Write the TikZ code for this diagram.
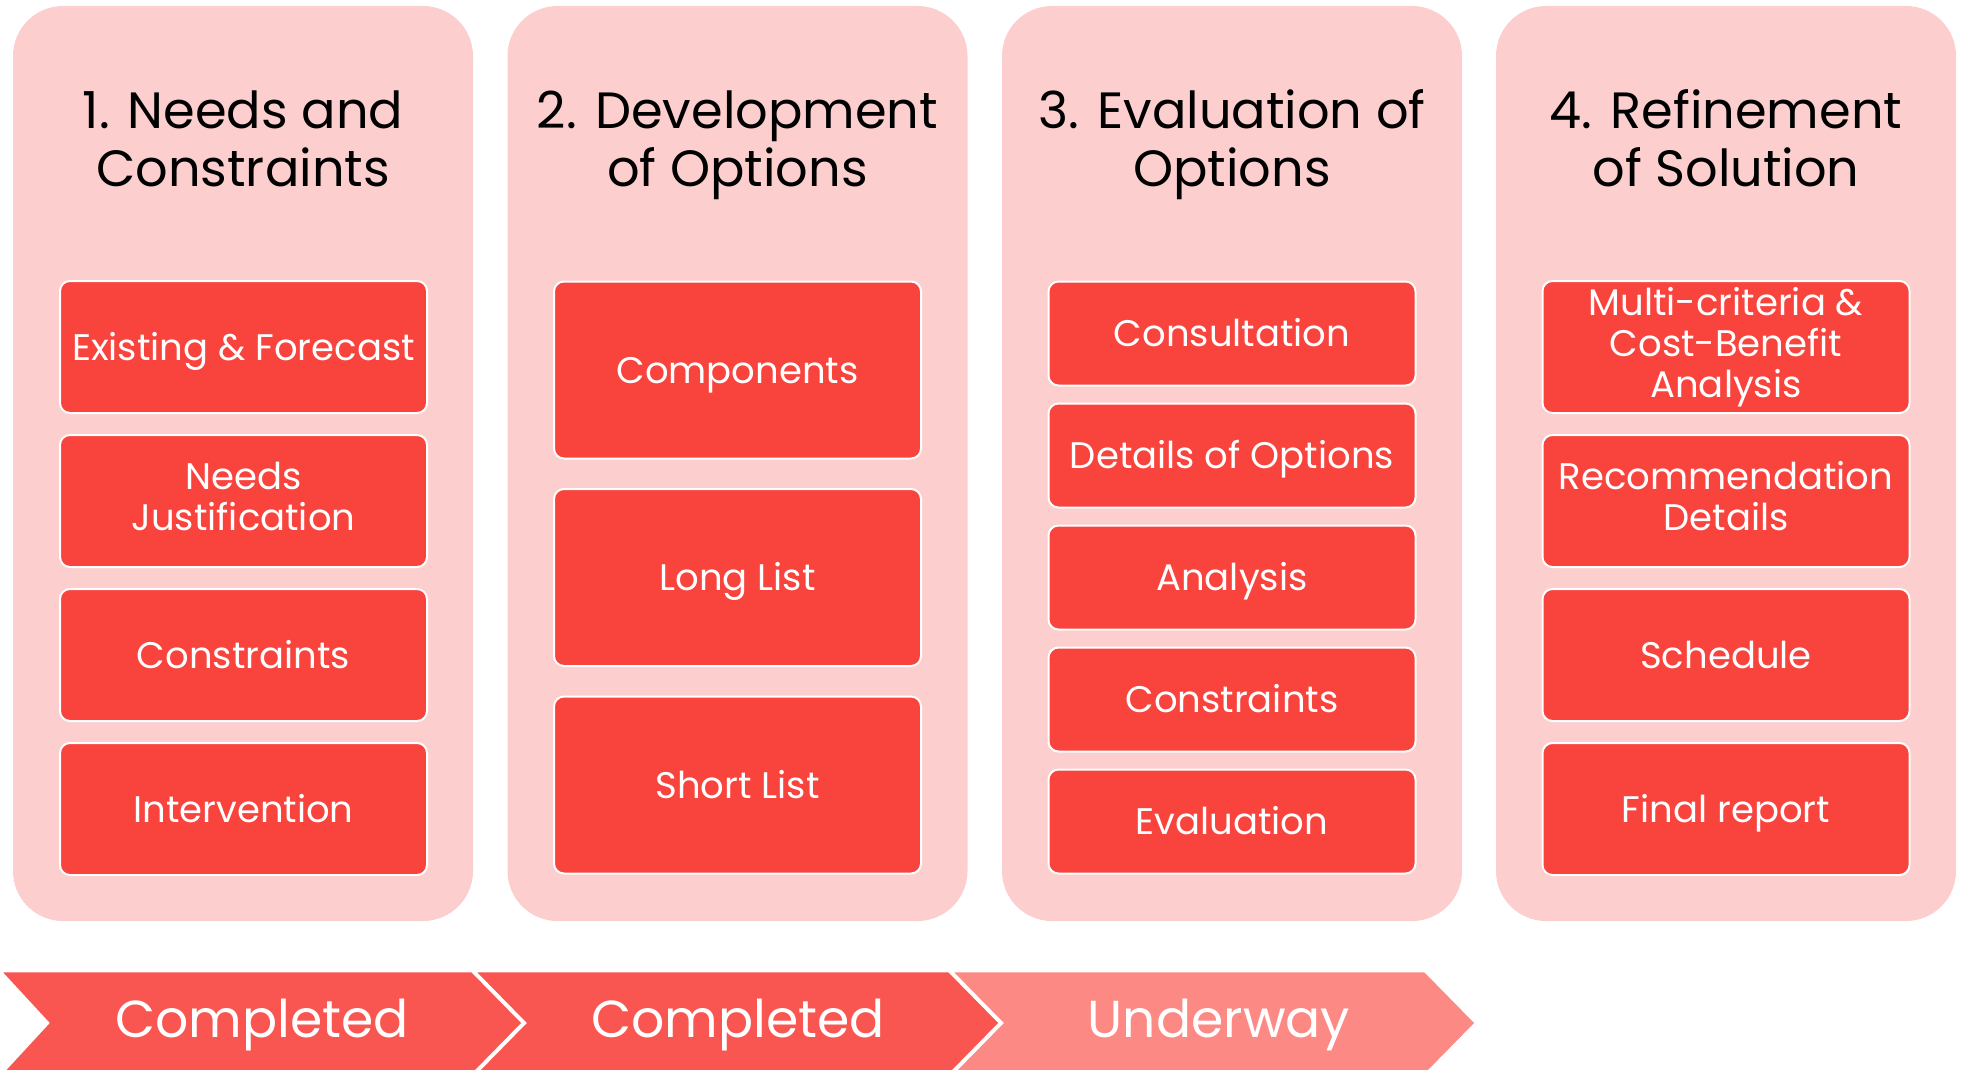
\documentclass[tikz,border=0pt]{standalone}
\usepackage{fontspec}
\setmainfont{Poppins}
\usepackage{tikz}
\usetikzlibrary{positioning}
\definecolor{PaleRose}{RGB}{252,206,206}
\definecolor{BoxRed}{RGB}{249,67,61}
\definecolor{DoneRed}{RGB}{249,86,81}
\definecolor{BusyRed}{RGB}{252,137,132}

\begin{document}
\begin{tikzpicture}[x=1pt, y=-1pt,
		column/.style={fill=PaleRose, rounded corners=50pt, minimum width=460pt, minimum height=915pt, inner sep=0pt},
		% struts so that every label is centred on its capitals
		heading/.style={align=center, inner sep=0pt, font=\fontsize{51}{58}\selectfont,
			execute at begin node=\rule{0pt}{48pt}, execute at end node=\rule[-13pt]{0pt}{13pt}},
		task/.style={fill=BoxRed, draw=white, line width=2pt, rounded corners=10pt, text=white, align=center,
			minimum width=367pt, inner sep=0pt, font=\fontsize{37}{41}\selectfont,
			execute at begin node=\rule{0pt}{36pt}, execute at end node=\rule[-10pt]{0pt}{10pt}},
		arrowband/.style={draw=white, line width=2.5pt, line join=miter},
		status/.style={text=white, inner sep=0pt, font=\fontsize{52}{58}\selectfont,
			execute at begin node=\rule{0pt}{48pt}, execute at end node=\rule[-13pt]{0pt}{13pt}}]
		\useasboundingbox (0,0) rectangle (1962,1070);
		
		% columns
		\node[column] (c1) at (243,463.5) {};
		\node[column] (c2) at (737.5,463.5) {};
		\node[column] (c3) at (1232,463.5) {};
		\node[column] (c4) at (1726,463.5) {};
		
		\node[heading] (h1) at (243,145) {1. Needs and\\Constraints};
		\node[heading] (h2) at (737.5,145) {2. Development\\of Options};
		\node[heading] (h3) at (1232,145) {3. Evaluation of\\Options};
		\node[heading] (h4) at (1726,145) {4. Refinement\\of Solution};
		
		% stage 1
		\node[task, minimum height=132pt] (n1) at (243.5,347) {Existing \& Forecast};
		\node[task, minimum height=132pt] (n2) at (243.5,501) {Needs\\Justification};
		\node[task, minimum height=132pt] (n3) at (243.5,655) {Constraints};
		\node[task, minimum height=132pt] (n4) at (243.5,809) {Intervention};
		
		% stage 2
		\node[task, minimum height=177pt] (o1) at (737.5,370) {Components};
		\node[task, minimum height=177pt] (o2) at (737.5,577.5) {Long List};
		\node[task, minimum height=177pt] (o3) at (737.5,785) {Short List};
		
		% stage 3
		\node[task, minimum height=104pt] (v1) at (1232,333.5) {Consultation};
		\node[task, minimum height=104pt] (v2) at (1232,455.5) {Details of Options};
		\node[task, minimum height=104pt] (v3) at (1232,577.5) {Analysis};
		\node[task, minimum height=104pt] (v4) at (1232,699.5) {Constraints};
		\node[task, minimum height=104pt] (v5) at (1232,821.5) {Evaluation};
		
		% stage 4
		\node[task, minimum height=132pt] (r1) at (1726,347) {Multi-criteria \&\\Cost-Benefit\\Analysis};
		\node[task, minimum height=132pt] (r2) at (1726,501) {Recommendation\\Details};
		\node[task, minimum height=132pt] (r3) at (1726,655) {Schedule};
		\node[task, minimum height=132pt] (r4) at (1726,809) {Final report};
		
		% progress band
		\filldraw[arrowband, fill=DoneRed] (0,971) -- (472,971) -- (523,1023) -- (472,1075) -- (0,1075) -- (48,1023) -- cycle;
		\filldraw[arrowband, fill=DoneRed] (474,971) -- (949,971) -- (1000,1023) -- (949,1075) -- (474,1075) -- (525,1023) -- cycle;
		\filldraw[arrowband, fill=BusyRed] (951,971) -- (1425,971) -- (1476,1023) -- (1425,1075) -- (951,1075) -- (1002,1023) -- cycle;
		
		\node[status] (s1) at (262,1020) {Completed};
		\node[status] (s2) at (738,1020) {Completed};
		\node[status] (s3) at (1219,1020) {Underway};
	\end{tikzpicture}
\end{document}
